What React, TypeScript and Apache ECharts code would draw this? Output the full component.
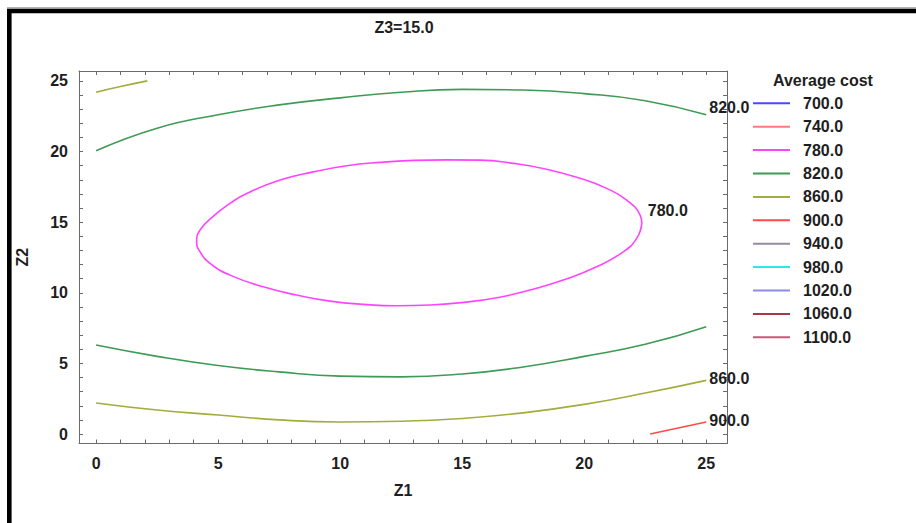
import React, { useEffect, useRef } from "react";
import * as echarts from "echarts";

// ---------- data ----------
const levels = ["700.0", "740.0", "780.0", "820.0", "860.0", "900.0", "940.0", "980.0", "1020.0", "1060.0", "1100.0"];
const levelColors = ["#4848ff", "#ff7a7a", "#ff44ff", "#3f9a55", "#a2ad3c", "#ff4a4a", "#9a8a9e", "#33e6e6", "#8c8ce8", "#a23a48", "#c8587a"];

// 780 contour (closed ellipse), starting at its rightmost point (label point)
const contour780: [number, number][] = [
  [22.36, 14.91], [22.29, 15.5], [21.74, 16.56], [20.92, 17.39], [19.83, 18.1],
  [18.46, 18.75], [17.1, 19.16], [15.73, 19.39], [14.37, 19.41], [13.0, 19.37],
  [11.63, 19.23], [10.27, 18.99], [8.9, 18.56], [7.54, 17.98], [6.17, 17.03],
  [5.49, 16.33], [4.81, 15.43], [4.26, 14.44], [4.12, 13.61], [4.26, 12.9],
  [4.67, 12.08], [5.49, 11.25], [6.85, 10.42], [8.22, 9.84], [9.59, 9.41],
  [10.95, 9.18], [12.32, 9.08], [13.68, 9.13], [15.05, 9.32], [16.42, 9.65],
  [17.78, 10.19], [19.14, 10.9], [20.51, 11.84], [21.6, 12.9], [22.15, 13.85],
  [22.36, 14.91],
];
const contour820Top: [number, number][] = [
  [0, 20.05], [2.5, 21.65], [5, 22.6], [7.5, 23.3], [10, 23.8], [12.5, 24.2],
  [15, 24.4], [17.5, 24.35], [20, 24.1], [22.5, 23.6], [25, 22.6],
];
const contour820Bottom: [number, number][] = [
  [0, 6.3], [2.5, 5.5], [5, 4.85], [7.5, 4.4], [10, 4.1], [12.5, 4.05], [15, 4.25],
  [17.5, 4.75], [20, 5.5], [22.5, 6.35], [25, 7.6],
];
const contour860Bottom: [number, number][] = [
  [0, 2.2], [2.5, 1.7], [5, 1.35], [7.5, 1.0], [10, 0.85], [12.5, 0.9], [15, 1.1],
  [17.5, 1.5], [20, 2.1], [22.5, 2.9], [25, 3.8],
];
const contour860Top: [number, number][] = [[0, 24.2], [1, 24.6], [2.1, 25.0]];
const contour900: [number, number][] = [[22.7, 0], [25, 0.85]];

const majorTicks = [0, 5, 10, 15, 20, 25];
const minorTicks = [0, 1, 2, 3, 4, 5, 6, 7, 8, 9, 10, 11, 12, 13, 14, 15, 16, 17, 18, 19, 20, 21, 22, 23, 24, 25];

const titleText = "Z3=15.0";
const legendTitle = "Average cost";
const xName = "Z1";
const yName = "Z2";

// ---------- chart ----------
const FONT = "Arial, 'Liberation Sans', sans-serif";
const TXT = "#1e1e1e";

function withLabel(points: [number, number][], labelIndex: number, text: string, offset: [number, number], distance = 5) {
  return points.map((p, i) =>
    i === labelIndex
      ? {
          value: p,
          label: {
            show: true,
            formatter: text,
            position: "right",
            distance,
            offset,
            color: TXT,
            fontSize: 16,
            fontWeight: "bold",
            fontFamily: FONT,
          },
        }
      : { value: p }
  );
}

export default function App() {
  const ref = useRef<HTMLDivElement>(null);
  useEffect(() => {
    if (!ref.current) return;
    const chart = echarts.init(ref.current, undefined, { renderer: "svg" });
    const colorOf = (name: string) => levelColors[levels.indexOf(name)];

    const lineSeries = (name: string, data: any[], z = 2) => ({
      type: "line",
      name,
      data,
      smooth: 0.5,
      symbol: "circle",
      symbolSize: 0,
      showSymbol: true,
      color: colorOf(name),
      lineStyle: { color: colorOf(name), width: 1.6 },
      label: { show: false },
      silent: true,
      z,
    });

    const contourSeries = [
      lineSeries("780.0", withLabel(contour780, 0, "780.0", [0, -13], 6)),
      lineSeries("820.0", withLabel(contour820Top, contour820Top.length - 1, "820.0", [0, -7], 3)),
      lineSeries("820.0", withLabel(contour820Bottom, -1, "", [0, 0])),
      lineSeries("860.0", withLabel(contour860Bottom, contour860Bottom.length - 1, "860.0", [0, -2], 3)),
      lineSeries("860.0", withLabel(contour860Top, -1, "", [0, 0])),
      lineSeries("900.0", withLabel(contour900, contour900.length - 1, "900.0", [0, -2], 3)),
    ];
    const usedNames = ["780.0", "820.0", "860.0", "900.0"];
    const emptySeries = levels
      .filter((l) => usedNames.indexOf(l) < 0)
      .map((l) => lineSeries(l, []));

    const axisCommon = {
      type: "value",
      axisLine: { show: true, onZero: false, lineStyle: { color: "#6a6a6a", width: 1 } },
      splitLine: { show: false },
      axisTick: { show: true, inside: true, length: 4, customValues: minorTicks, lineStyle: { color: "#6a6a6a" } },
    };
    const labelStyle = { color: TXT, fontSize: 16, fontWeight: "bold", fontFamily: FONT };

    chart.setOption({
      animation: false,
      backgroundColor: "#ffffff",
      textStyle: { fontFamily: FONT },
      grid: { left: 79, right: 189, top: 71, bottom: 79.5, containLabel: false },
      xAxis: [
        {
          ...axisCommon,
          position: "bottom",
          min: -0.7,
          max: 25.85,
          name: xName,
          nameLocation: "middle",
          nameGap: 39,
          nameTextStyle: { ...labelStyle },
          axisLabel: { ...labelStyle, margin: 12, customValues: majorTicks },
        },
        {
          ...axisCommon,
          position: "top",
          min: -0.7,
          max: 25.85,
          axisLabel: { show: false },
        },
      ],
      yAxis: [
        {
          ...axisCommon,
          position: "left",
          min: -0.67,
          max: 25.7,
          name: yName,
          nameLocation: "middle",
          nameGap: 49,
          nameTextStyle: { ...labelStyle },
          axisLabel: { ...labelStyle, margin: 11, customValues: majorTicks },
        },
        {
          ...axisCommon,
          position: "right",
          min: -0.67,
          max: 25.7,
          axisLabel: { show: false },
        },
      ],
      legend: {
        data: levels,
        orient: "vertical",
        left: 748,
        top: 89.3,
        icon: "rect",
        itemWidth: 37,
        itemHeight: 2,
        itemGap: 5.4,
        selectedMode: false,
        textStyle: { ...labelStyle, lineHeight: 18, padding: [0, 0, 0, 8] },
      },
      graphic: [
        { type: "rect", shape: { x: 7, y: 7.3, width: 909, height: 1.6 }, style: { fill: "#9a9a9a" }, silent: true },
        { type: "rect", shape: { x: 7, y: 9, width: 909, height: 4.2 }, style: { fill: "#000" }, silent: true },
        { type: "rect", shape: { x: 7, y: 9, width: 4.6, height: 514 }, style: { fill: "#000" }, silent: true },
        {
          type: "text",
          x: 404,
          y: 27,
          style: { text: titleText, fill: TXT, fontSize: 16, fontWeight: "bold", fontFamily: FONT, align: "center", verticalAlign: "middle" },
          silent: true,
        },
        {
          type: "text",
          x: 773,
          y: 80,
          style: { text: legendTitle, fill: TXT, fontSize: 16, fontWeight: "bold", fontFamily: FONT, align: "left", verticalAlign: "middle" },
          silent: true,
        },
      ],
      series: [...contourSeries, ...emptySeries],
    });
    return () => chart.dispose();
  }, []);

  return <div ref={ref} style={{ position: "fixed", left: 0, top: 0, width: 916, height: 523 }} />;
}
